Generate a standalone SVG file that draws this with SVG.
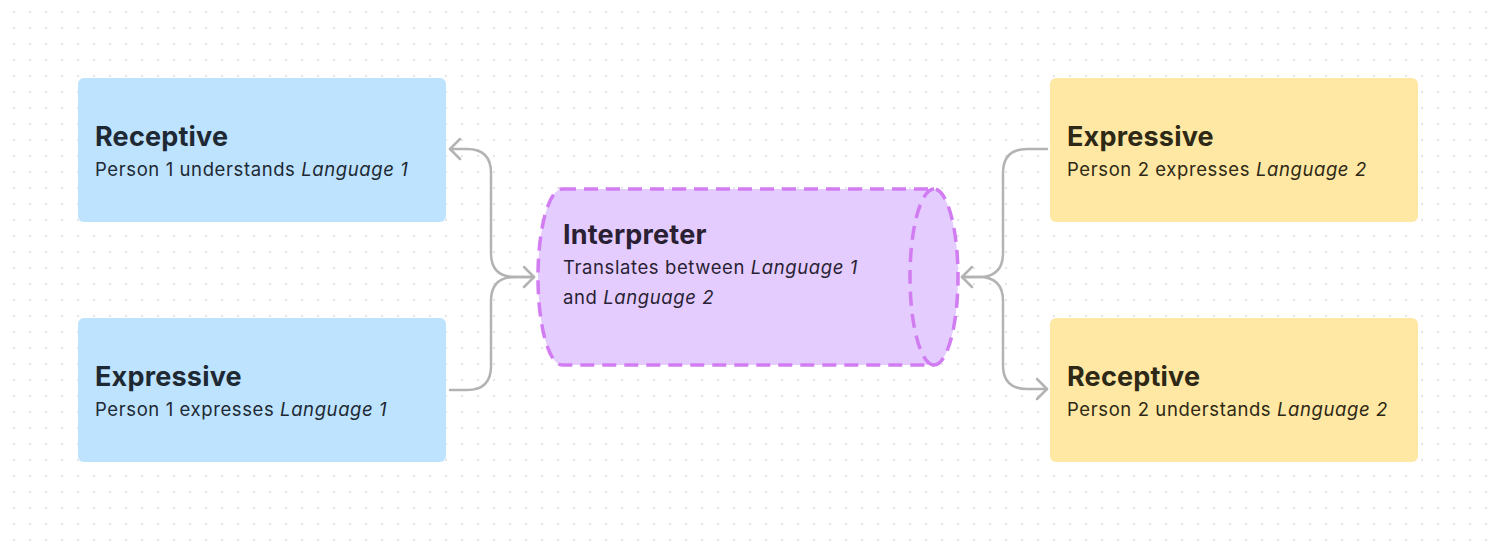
<svg xmlns="http://www.w3.org/2000/svg" width="1497" height="541" viewBox="0 0 1497 541">
<style>
.title{font-family:Inter,"Liberation Sans",sans-serif;font-weight:700;font-size:27px;letter-spacing:0.2px}
.sub{font-family:Inter,"Liberation Sans",sans-serif;font-weight:400;font-size:18.5px;letter-spacing:0.6px}
.it{font-style:italic}
.blue rect{fill:#bde3ff}
.blue text{fill:#1e2933}
.yellow rect{fill:#ffe8a3}
.yellow text{fill:#2e2916}
.purple text{fill:#2a1f33}
.conn path{fill:none;stroke:#b3b3b3;stroke-width:2.5;stroke-linecap:round;stroke-linejoin:round}
.cyl{stroke:#d27cf2;stroke-width:3.5;stroke-dasharray:14 8}
</style>
<defs>
<pattern id="dots" x="6" y="4" width="16" height="16" patternUnits="userSpaceOnUse">
<rect x="7" y="7" width="2" height="2" fill="#e4e4e4"/>
</pattern>
<marker id="arr" markerUnits="userSpaceOnUse" markerWidth="24" markerHeight="24" viewBox="-12 -12 24 24" refX="0" refY="0" orient="auto">
<path d="M -10 -10 L 0 0 L -10 10" fill="none" stroke="#b3b3b3" stroke-width="2.5" stroke-linecap="round" stroke-linejoin="round"/>
</marker>
</defs>
<rect width="1497" height="541" fill="#ffffff"/>
<rect width="1497" height="541" fill="url(#dots)"/>
<g class="conn" id="connectors">
<path d="M 534 277 H 515 Q 491 277 491 253 V 173 Q 491 149 467 149 H 450" marker-end="url(#arr)"/>
<path d="M 450 390 H 467 Q 491 390 491 366 V 301 Q 491 277 515 277 H 534" marker-end="url(#arr)"/>
<path d="M 1047 149 H 1027 Q 1003 149 1003 173 V 253 Q 1003 277 979 277 H 962" marker-end="url(#arr)"/>
<path d="M 962 277 H 979 Q 1003 277 1003 301 V 365 Q 1003 389 1027 389 H 1047" marker-end="url(#arr)"/>
</g>
<g id="receptive1" class="blue">
<rect x="78" y="78" width="368" height="144" rx="6"/>
<text class="title" x="95" y="146">Receptive</text>
<text class="sub" x="95" y="176">Person 1 understands <tspan class="it">Language 1</tspan></text>
</g>
<g id="expressive1" class="blue">
<rect x="78" y="318" width="368" height="144" rx="6"/>
<text class="title" x="95" y="386">Expressive</text>
<text class="sub" x="95" y="416">Person 1 expresses <tspan class="it">Language 1</tspan></text>
</g>
<g id="expressive2" class="yellow">
<rect x="1050" y="78" width="368" height="144" rx="6"/>
<text class="title" x="1067" y="146">Expressive</text>
<text class="sub" x="1067" y="176">Person 2 expresses <tspan class="it">Language 2</tspan></text>
</g>
<g id="receptive2" class="yellow">
<rect x="1050" y="318" width="368" height="144" rx="6"/>
<text class="title" x="1067" y="386">Receptive</text>
<text class="sub" x="1067" y="416">Person 2 understands <tspan class="it">Language 2</tspan></text>
</g>
<g id="interpreter" class="purple">
<path class="cyl" d="M 562 189 H 934 A 24 88 0 0 1 934 365 H 562 A 24 88 0 0 1 562 189 Z" fill="#e4ccff"/>
<path class="cyl" d="M 934 189 A 24 88 0 0 0 934 365" fill="none"/>
<text class="title" x="563" y="244">Interpreter</text>
<text class="sub" x="563" y="274">Translates between <tspan class="it">Language 1</tspan></text>
<text class="sub" x="563" y="304">and <tspan class="it">Language 2</tspan></text>
</g>
</svg>
